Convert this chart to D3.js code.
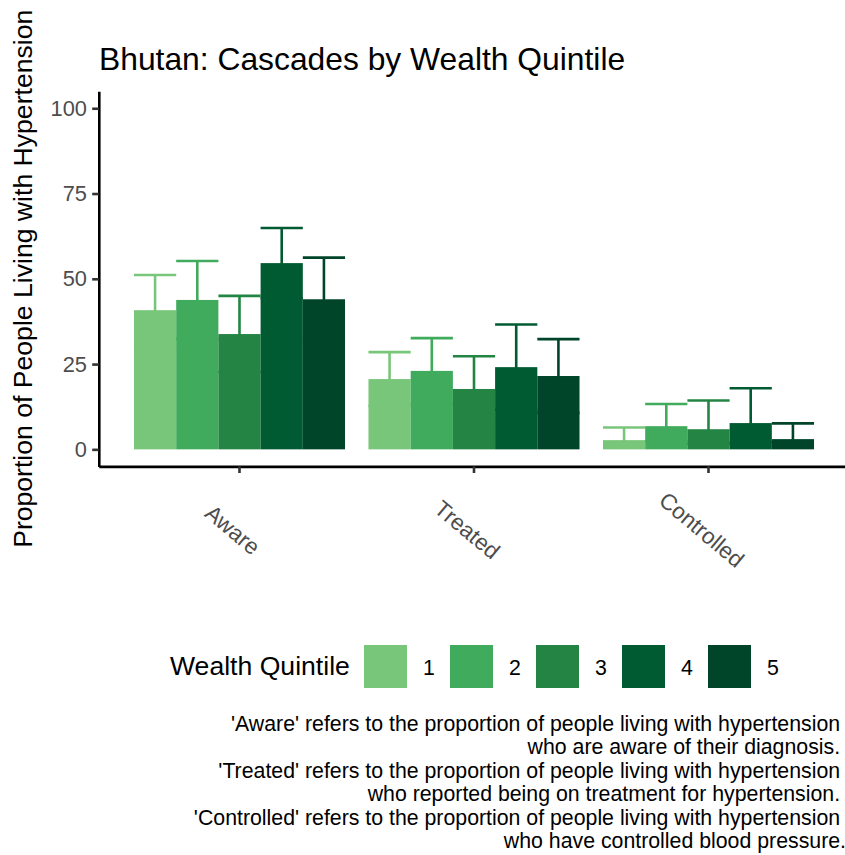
<!DOCTYPE html>
<html>
<head>
<meta charset="utf-8">
<script src="https://cdn.jsdelivr.net/npm/d3@7"></script>
<style>
  body { margin: 0; background: #fff; }
  svg { display: block; font-family: "Liberation Sans", Arial, sans-serif; }
</style>
</head>
<body>
<svg id="chart" width="845" height="855"></svg>
<script>
// ---- data ----
const categories = ["Aware", "Treated", "Controlled"];
const quintiles = ["1", "2", "3", "4", "5"];
const awareValues      = [40.8, 43.8, 33.8, 54.6, 44.0];
const awareUpper       = [51.1, 55.2, 45.0, 64.9, 56.2];
const awareLower       = [30.5, 32.4, 22.6, 44.3, 31.8];
const treatedValues    = [20.6, 23.0, 17.7, 24.1, 21.5];
const treatedUpper     = [28.5, 32.6, 27.3, 36.6, 32.3];
const treatedLower     = [12.7, 13.4, 8.1, 11.6, 10.7];
const controlledValues = [2.7, 6.8, 5.9, 7.7, 3.0];
const controlledUpper  = [6.4, 13.3, 14.3, 17.9, 7.6];
const controlledLower  = [0.9, 2.4, 1.6, 2.1, 1.0];
const yTicks = [0, 25, 50, 75, 100];
const colors = ["#78c679", "#41ab5d", "#238443", "#005a32", "#00452a"];
const titleText = "Bhutan: Cascades by Wealth Quintile";
const yTitle = "Proportion of People Living with Hypertension";
const legendTitle = "Wealth Quintile";
const captionLines = [
  "'Aware' refers to the proportion of people living with hypertension ",
  "who are aware of their diagnosis. ",
  "'Treated' refers to the proportion of people living with hypertension ",
  "who reported being on treatment for hypertension. ",
  "'Controlled' refers to the proportion of people living with hypertension ",
  "who have controlled blood pressure."
];

const valuesByCat = [awareValues, treatedValues, controlledValues];
const upperByCat = [awareUpper, treatedUpper, controlledUpper];
const lowerByCat = [awareLower, treatedLower, controlledLower];
const rows = [];
categories.forEach((c, ci) => quintiles.forEach((q, qi) => rows.push({
  cat: c, q: q, qi: qi, v: valuesByCat[ci][qi], lo: lowerByCat[ci][qi], hi: upperByCat[ci][qi]
})));

// ---- layout ----
const svg = d3.select("#chart");
const panel = { left: 98.8, right: 849.2, top: 91.2, bottom: 466.4 };

const x = d3.scaleBand().domain(categories)
  .range([panel.left, panel.right]).paddingInner(0).paddingOuter(0.1);
const xInner = d3.scaleBand().domain(quintiles)
  .range([x.bandwidth() * 0.05, x.bandwidth() * 0.95]).padding(0);
const y = d3.scaleLinear().domain([-5, 105]).range([panel.bottom, panel.top]);
const color = d3.scaleOrdinal().domain(quintiles).range(colors);

// title
svg.append("text").attr("x", 99).attr("y", 70)
  .attr("font-size", 31.8).attr("fill", "#000").text(titleText);

// y title
svg.append("text")
  .attr("transform", `translate(32,${(panel.top + panel.bottom) / 2}) rotate(-90)`)
  .attr("text-anchor", "middle").attr("font-size", 26.6).attr("fill", "#000")
  .text(yTitle);

// error bars (drawn below bars)
const eb = svg.append("g");
rows.forEach(d => {
  const x0 = x(d.cat) + xInner(d.q);
  const x1 = x0 + xInner.bandwidth();
  const xm = (x0 + x1) / 2;
  const g = eb.append("g").attr("stroke", color(d.q)).attr("stroke-width", 2.6).attr("fill", "none");
  g.append("line").attr("x1", xm).attr("x2", xm).attr("y1", y(d.lo)).attr("y2", y(d.hi));
  g.append("line").attr("x1", x0).attr("x2", x1).attr("y1", y(d.hi)).attr("y2", y(d.hi));
  g.append("line").attr("x1", x0).attr("x2", x1).attr("y1", y(d.lo)).attr("y2", y(d.lo));
});

// bars
svg.append("g").selectAll("rect").data(rows).join("rect")
  .attr("x", d => x(d.cat) + xInner(d.q))
  .attr("width", xInner.bandwidth())
  .attr("y", d => y(d.v))
  .attr("height", d => y(0) - y(d.v))
  .attr("fill", d => color(d.q));

// y axis
const yAxis = svg.append("g").attr("transform", `translate(${panel.left},0)`)
  .call(d3.axisLeft(y).tickValues(yTicks).tickSize(6.6).tickSizeOuter(0).tickPadding(5.3));
yAxis.select(".domain").attr("stroke", "#000").attr("stroke-width", 2.6);
yAxis.selectAll(".tick line").attr("stroke", "#333").attr("stroke-width", 2.6);
yAxis.selectAll(".tick text").attr("font-size", 21.8).attr("fill", "#4d4d4d")
  .attr("font-family", "Liberation Sans, Arial, sans-serif");

// x axis
const xAxis = svg.append("g").attr("transform", `translate(0,${panel.bottom})`)
  .call(d3.axisBottom(x).tickSize(6.6).tickSizeOuter(0));
xAxis.select(".domain").attr("stroke", "#000").attr("stroke-width", 2.6);
xAxis.selectAll(".tick line").attr("stroke", "#333").attr("stroke-width", 2.6);
xAxis.selectAll(".tick text").remove();
svg.append("g").selectAll("text").data(categories).join("text")
  .attr("transform", d => `translate(${x(d) + x.bandwidth() / 2 - 7},530) rotate(40)`)
  .attr("text-anchor", "middle").attr("dominant-baseline", "central")
  .attr("font-size", 22.5).attr("fill", "#4d4d4d").text(d => d);

// legend
const lg = svg.append("g");
lg.append("text").attr("x", 170).attr("y", 675).attr("font-size", 26.6).attr("fill", "#000").text(legendTitle);
quintiles.forEach((q, i) => {
  const kx = 364 + i * 86;
  lg.append("rect").attr("x", kx).attr("y", 645).attr("width", 43).attr("height", 43).attr("fill", color(q));
  lg.append("text").attr("x", kx + 59).attr("y", 675).attr("font-size", 21.3).attr("fill", "#000").text(q);
});

// caption
svg.append("g").selectAll("text").data(captionLines).join("text")
  .attr("x", 846).attr("y", (d, i) => 731 + i * 23.4)
  .attr("text-anchor", "end").style("white-space", "pre")
  .attr("font-size", 21.3).attr("fill", "#000").text(d => d);
</script>
</body>
</html>
